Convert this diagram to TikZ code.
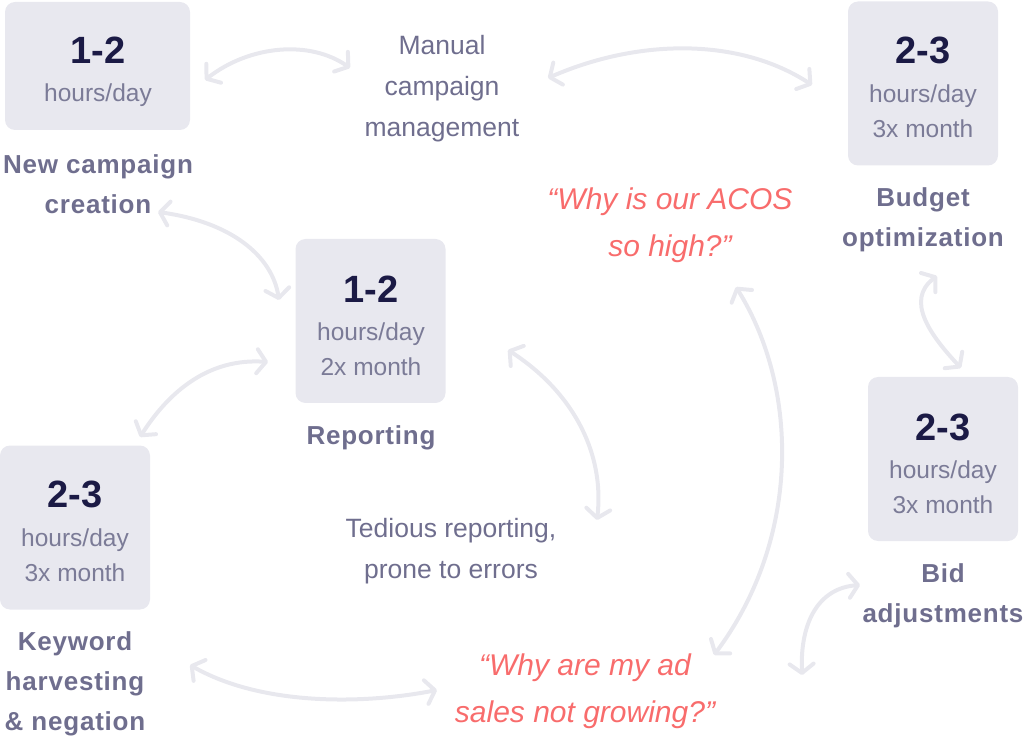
\documentclass[tikz,border=0pt]{standalone}
\usepackage{fontspec}
\setmainfont{Liberation Sans}
\newfontfamily\lblfont[LetterSpace=3]{Liberation Sans}
\usetikzlibrary{arrows.meta}
\definecolor{boxfill}{HTML}{E8E8EF}
\definecolor{numc}{HTML}{1B1A45}
\definecolor{hoursc}{HTML}{7B7B97}
\definecolor{labelc}{HTML}{6F6E8E}
\definecolor{redc}{HTML}{F86C6C}
\definecolor{arrowc}{HTML}{E8E8EE}
\tikzset{
  tbox/.style={fill=boxfill, rounded corners=10pt, inner sep=0pt, minimum width=150pt, minimum height=164pt},
  num/.style={text=numc, font=\fontsize{38}{40}\selectfont\bfseries},
  hrs/.style={text=hoursc, font=\fontsize{24.5}{35}\selectfont, align=center},
  lbl/.style={text=labelc, font=\lblfont\bfseries\fontsize{26}{40}\selectfont, align=center},
  plain/.style={text=labelc, font=\fontsize{26.5}{41}\selectfont, align=center},
  quote/.style={text=redc, font=\fontsize{30}{47}\selectfont\itshape, align=center},
  conn/.style={draw=arrowc, line width=4pt, line cap=round,
    {Straight Barb[length=9pt,width=24pt,round]}-{Straight Barb[length=9pt,width=24pt,round]}}
}
\begin{document}
\begin{tikzpicture}[x=1pt,y=-1pt]
\useasboundingbox (0,0) rectangle (1026,743);
% boxes
\node[tbox, minimum width=185pt, minimum height=128pt] (b1) at (97.5,66) {};
\node[num] (b1n) at (98,50) {1-2};
\node[hrs] (b1h) at (98,95) {hours/day};
\node[lbl] (l1) at (98,184) {New campaign\\creation};

\node[tbox] (b2) at (923,83.5) {};
\node[num] (b2n) at (923,50) {2-3};
\node[hrs] (b2h) at (923,111.5) {hours/day\\3x month};
\node[lbl] (l2) at (923,220) {Budget\\optimization};

\node[tbox] (b3) at (370.5,321) {};
\node[num] (b3n) at (371,289) {1-2};
\node[hrs] (b3h) at (371,349.5) {hours/day\\2x month};
\node[lbl] (l3) at (371,438) {Reporting};

\node[tbox] (b4) at (75,527.5) {};
\node[num] (b4n) at (75,494) {2-3};
\node[hrs] (b4h) at (75,555.5) {hours/day\\3x month};
\node[lbl] (l4) at (75,684) {Keyword\\harvesting\\\& negation};

\node[tbox] (b5) at (943,459) {};
\node[num] (b5n) at (943,427) {2-3};
\node[hrs] (b5h) at (943,487.5) {hours/day\\3x month};
\node[lbl] (l5) at (943,596) {Bid\\adjustments};

% free texts
\node[plain] (manual) at (442,89) {Manual\\campaign\\management};
\node[plain] (tedious) at (451,551) {Tedious reporting,\\prone to errors};
\node[quote] (q1) at (670,225) {“Why is our ACOS\\so high?”};
\node[quote] (q2) at (585,691) {“Why are my ad\\sales not growing?”};

% arrow end points
\coordinate (a1s) at (205,80);  \coordinate (a1e) at (350,68);
\coordinate (a2s) at (548,78);  \coordinate (a2e) at (812,85);
\coordinate (a3s) at (158,212); \coordinate (a3e) at (279,300);
\coordinate (a4s) at (268,362); \coordinate (a4e) at (140,437);
\coordinate (a5s) at (508,350); \coordinate (a5e) at (597,520);
\coordinate (a6s) at (736,287); \coordinate (a6e) at (714,655);
\coordinate (a7s) at (860,585); \coordinate (a7e) at (802,675);
\coordinate (a8s) at (190,665); \coordinate (a8e) at (437,690);
\coordinate (a9s) at (937,276); \coordinate (a9e) at (961,368);

\draw[conn] (a1s) .. controls (250,45) and (310,40) .. (a1e);
\draw[conn] (a2s) .. controls (640,38) and (740,38) .. (a2e);
\draw[conn] (a3s) .. controls (230,222) and (272,255) .. (a3e);
\draw[conn] (a4s) .. controls (210,358) and (170,390) .. (a4e);
\draw[conn] (a5s) .. controls (570,390) and (605,450) .. (a5e);
\draw[conn] (a6s) .. controls (800,390) and (800,540) .. (a6e);
\draw[conn] (a7s) .. controls (820,588) and (800,620) .. (a7e);
\draw[conn] (a8s) .. controls (260,705) and (360,705) .. (a8e);
\draw[conn] (a9s) .. controls (905,300) and (930,335) .. (a9e);
\end{tikzpicture}
\end{document}
